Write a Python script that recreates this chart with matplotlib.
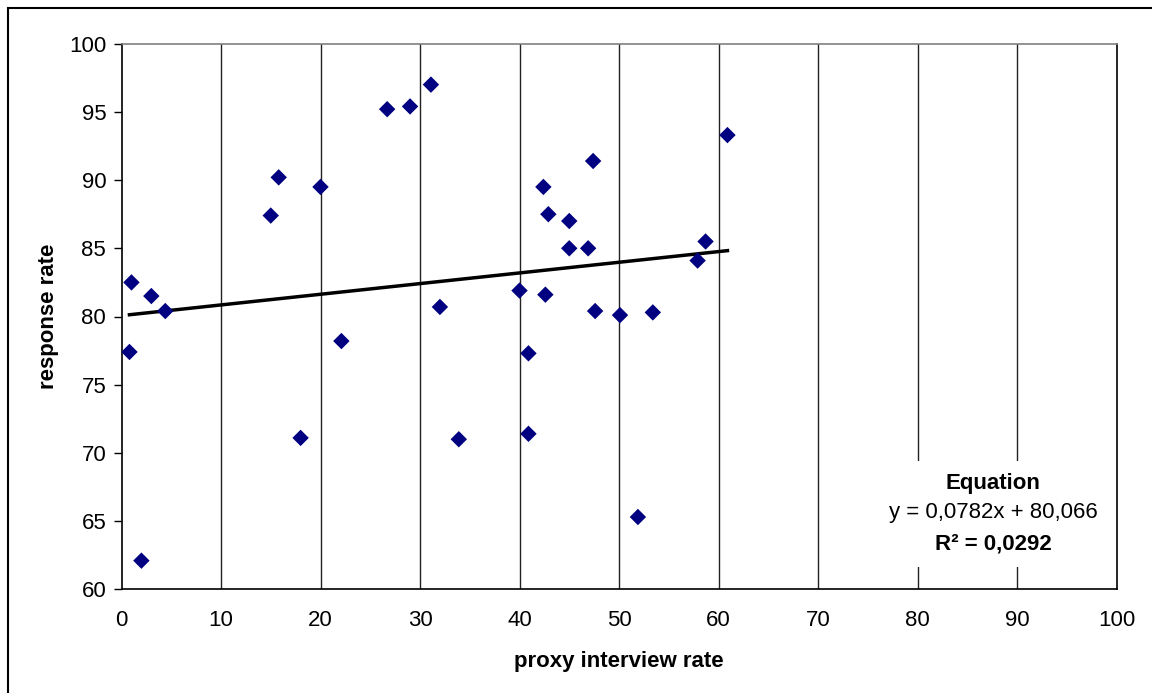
import numpy as np
import matplotlib
matplotlib.use("Agg")
import matplotlib.pyplot as plt
from matplotlib.patches import Rectangle

plt.rcParams['font.family'] = ['Liberation Sans', 'DejaVu Sans']

# proxy interview rate vs response rate
proxy_rate = [0.8, 1.0, 2.0, 3.0, 4.4, 15.0, 15.8, 18.0, 20.0, 22.1,
              26.7, 29.0, 31.1, 32.0, 33.9, 40.0, 40.9, 40.9, 42.4, 42.6,
              42.9, 45.0, 45.0, 46.9, 47.4, 47.6, 50.1, 51.9, 53.4, 57.9,
              58.7, 60.9]
response_rate = [77.4, 82.5, 62.1, 81.5, 80.4, 87.4, 90.2, 71.1, 89.5, 78.2,
                 95.2, 95.4, 97.0, 80.7, 71.0, 81.9, 77.3, 71.4, 89.5, 81.6,
                 87.5, 87.0, 85.0, 85.0, 91.4, 80.4, 80.1, 65.3, 80.3, 84.1,
                 85.5, 93.3]

# linear trend as reported on the chart
slope = 0.0782
intercept = 80.066
r_squared = "0,0292"

W, H = 1152, 693
fig = plt.figure(figsize=(W / 100, H / 100), dpi=100)
ax = fig.add_axes([121.5 / W, 1 - 589.3 / H, 995 / W, (589.3 - 43.7) / H])

ax.set_xlim(0, 100)
ax.set_ylim(60, 100)
ax.set_xticks(np.arange(0, 101, 10))
ax.set_yticks(np.arange(60, 101, 5))

# vertical gridlines only
for gx in np.arange(10, 100, 10):
    ax.axvline(gx, color='#222222', lw=1.0, zorder=1)

ax.tick_params(axis='x', length=0, labelsize=16, pad=15)
ax.tick_params(axis='y', length=6, width=1, labelsize=16, pad=5, direction='out')

for side in ['left', 'bottom', 'right']:
    ax.spines[side].set_color('black')
    ax.spines[side].set_linewidth(1.2)
ax.spines['top'].set_color('#808080')
ax.spines['top'].set_linewidth(1.2)

ax.scatter(proxy_rate, response_rate, marker='D', s=70, color='#000080',
           edgecolors='none', zorder=4)

xs = np.array([min(proxy_rate), max(proxy_rate)])
ax.plot(xs, slope * xs + intercept, color='black', lw=2.5, zorder=3)

ax.set_xlabel('proxy interview rate', fontsize=16, fontweight='bold', labelpad=14)
ax.set_ylabel('response rate', fontsize=16, fontweight='bold', labelpad=7)

# equation box
ax.add_patch(Rectangle((0.74, 0.04), 0.255, 0.195, transform=ax.transAxes,
                       facecolor='white', edgecolor='none', zorder=2))
cx = 0.876
ax.text(cx, 0.193, 'Equation', transform=ax.transAxes, ha='center', va='center',
        fontsize=16, fontweight='bold', zorder=5)
ax.text(cx, 0.140, 'y = 0,0782x + 80,066', transform=ax.transAxes, ha='center',
        va='center', fontsize=16, zorder=5)
ax.text(cx, 0.083, 'R² = ' + r_squared, transform=ax.transAxes, ha='center',
        va='center', fontsize=16, fontweight='bold', zorder=5)

# outer chart border
fig.add_artist(Rectangle((8 / W, -0.1), 1.2, 1.1 - 8 / H, transform=fig.transFigure,
                         fill=False, edgecolor='black', lw=1.5))

fig.savefig('out.png', dpi=100)
